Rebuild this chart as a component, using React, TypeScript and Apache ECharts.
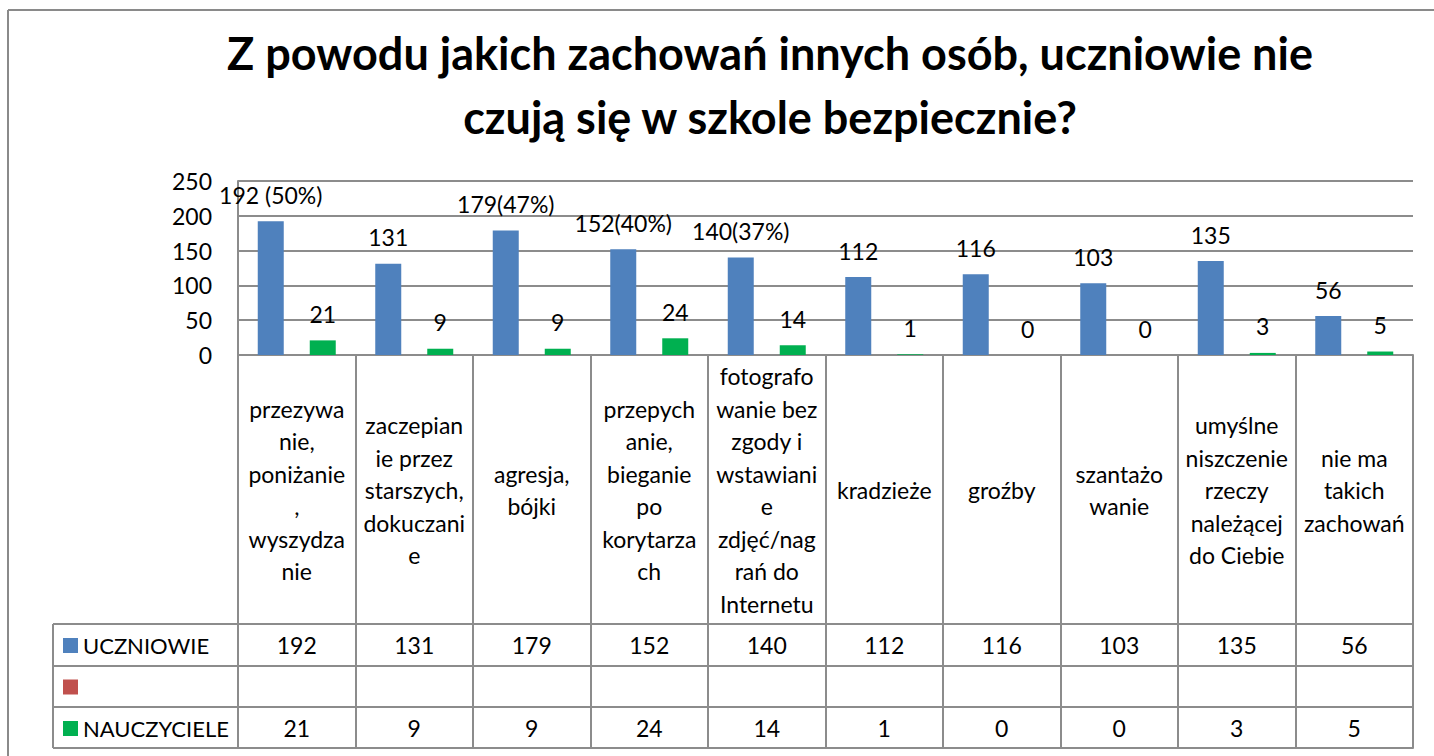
import { useEffect, useRef } from 'react';
import * as echarts from 'echarts';

const title = 'Z powodu jakich zachowań innych osób, uczniowie nie\nczują się w szkole bezpiecznie?';
const categories = [
  'przezywa\nnie,\nponiżanie\n,\nwyszydza\nnie',
  'zaczepian\nie przez\nstarszych,\ndokuczani\ne',
  'agresja,\nbójki',
  'przepych\nanie,\nbieganie\npo\nkorytarza\nch',
  'fotografo\nwanie bez\nzgody i\nwstawiani\ne\nzdjęć/nag\nrań do\nInternetu',
  'kradzieże',
  'groźby',
  'szantażo\nwanie',
  'umyślne\nniszczenie\nrzeczy\nnależącej\ndo Ciebie',
  'nie ma\ntakich\nzachowań',
];
const seriesNames = ['UCZNIOWIE', ' ', 'NAUCZYCIELE'];
const uczniowie = [192, 131, 179, 152, 140, 112, 116, 103, 135, 56];
const uczniowieLabels = ['192 (50%)', '131', '179(47%)', '152(40%)', '140(37%)', '112', '116', '103', '135', '56'];
const empty: (number | null)[] = [];
const nauczyciele = [21, 9, 9, 24, 14, 1, 0, 0, 3, 5];
const yMin = 0;
const yMax = 250;
const yInterval = 50;

const FONT = 'Lato';
const GRAY = '#8c8c8c';
const colors = ['#4F81BD', '#C0504D', '#00B050'];

export default function App() {
  const ref = useRef<HTMLDivElement>(null);
  useEffect(() => {
    if (!ref.current) return;
    const chart = echarts.init(ref.current, undefined, { renderer: 'svg' });
    const gridTop = 181;
    const gridBottomY = 355;
    const lineY = [624, 666, 707, 748];
    const baseAxis = {
      type: 'category' as const,
      data: categories,
      position: 'bottom' as const,
      axisLine: { show: true, lineStyle: { color: GRAY, width: 2 } },
      splitLine: { show: false },
    };
    chart.setOption({
      animation: false,
      color: colors,
      title: {
        text: title,
        left: 770,
        top: 21,
        padding: 0,
        textAlign: 'center',
        textStyle: { fontFamily: FONT, fontWeight: 'bold', fontSize: 45, lineHeight: 64, color: '#000' },
      },
      legend: {
        orient: 'vertical',
        left: 63,
        top: 634,
        padding: 0,
        itemWidth: 15,
        itemHeight: 15,
        itemGap: 18.5,
        icon: 'rect',
        selectedMode: false,
        data: seriesNames,
        textStyle: { fontFamily: FONT, fontSize: 22, lineHeight: 23, color: '#000' },
      },
      grid: { left: 238, top: gridTop, width: 1175, height: gridBottomY - gridTop, containLabel: false },
      yAxis: {
        type: 'value',
        min: yMin,
        max: yMax,
        interval: yInterval,
        axisLine: { show: true, lineStyle: { color: GRAY, width: 2 } },
        axisTick: { show: false },
        splitLine: { show: true, lineStyle: { color: GRAY, width: 2 } },
        axisLabel: { fontFamily: FONT, fontSize: 23, color: '#000', margin: 26 },
      },
      xAxis: [
        {
          ...baseAxis,
          axisTick: { show: true, interval: 0, length: lineY[0] - gridBottomY, lineStyle: { color: GRAY, width: 2 } },
          axisLabel: {
            interval: 0,
            margin: 135,
            verticalAlign: 'middle',
            align: 'center',
            fontFamily: FONT,
            fontSize: 23,
            lineHeight: 32.5,
            color: '#000',
          },
        },
        {
          ...baseAxis,
          offset: lineY[0] - gridBottomY,
          axisTick: { show: true, interval: 0, length: lineY[1] - lineY[0], lineStyle: { color: GRAY, width: 2 } },
          axisLabel: {
            interval: 0,
            margin: 21,
            verticalAlign: 'middle',
            fontFamily: FONT,
            fontSize: 23,
            color: '#000',
            formatter: (_v: string, i: number) => String(uczniowie[i]),
          },
        },
        {
          ...baseAxis,
          offset: lineY[1] - gridBottomY,
          axisTick: { show: true, interval: 0, length: lineY[2] - lineY[1], lineStyle: { color: GRAY, width: 2 } },
          axisLabel: { show: false },
        },
        {
          ...baseAxis,
          offset: lineY[2] - gridBottomY,
          axisTick: { show: true, interval: 0, length: lineY[3] - lineY[2], lineStyle: { color: GRAY, width: 2 } },
          axisLabel: {
            interval: 0,
            margin: 21,
            verticalAlign: 'middle',
            fontFamily: FONT,
            fontSize: 23,
            color: '#000',
            formatter: (_v: string, i: number) => String(nauczyciele[i]),
          },
        },
        {
          ...baseAxis,
          offset: lineY[3] - gridBottomY,
          axisTick: { show: false },
          axisLabel: { show: false },
        },
      ],
      series: [
        {
          name: seriesNames[0],
          type: 'bar',
          xAxisIndex: 0,
          barWidth: 26,
          barGap: '0%',
          data: uczniowie,
          label: {
            show: true,
            position: 'top',
            distance: 15,
            fontFamily: FONT,
            fontSize: 23,
            lineHeight: 23,
            color: '#000',
            formatter: (p: any) => uczniowieLabels[p.dataIndex],
          },
        },
        {
          name: seriesNames[1],
          type: 'bar',
          xAxisIndex: 0,
          barWidth: 26,
          barGap: '0%',
          data: empty,
        },
        {
          name: seriesNames[2],
          type: 'bar',
          xAxisIndex: 0,
          barWidth: 26,
          barGap: '0%',
          data: nauczyciele,
          label: {
            show: true,
            position: 'top',
            distance: 15,
            fontFamily: FONT,
            fontSize: 23,
            lineHeight: 23,
            color: '#000',
          },
        },
      ],
      graphic: [
        { type: 'line', shape: { x1: 8, y1: 10, x2: 1434, y2: 10 }, style: { stroke: '#8a8a8a', lineWidth: 2 } },
        { type: 'line', shape: { x1: 8, y1: 10, x2: 8, y2: 756 }, style: { stroke: '#8a8a8a', lineWidth: 2 } },
        { type: 'line', shape: { x1: 53, y1: lineY[0], x2: 53, y2: lineY[3] }, style: { stroke: GRAY, lineWidth: 2 } },
        ...lineY.map((y) => ({
          type: 'line',
          shape: { x1: 53, y1: y, x2: 238, y2: y },
          style: { stroke: GRAY, lineWidth: 2 },
        })),
      ],
    });
    return () => chart.dispose();
  }, []);
  return (
    <div
      ref={ref}
      style={{ position: 'fixed', left: 0, top: 0, width: 1434, height: 756, overflow: 'hidden', background: '#fff' }}
    />
  );
}
